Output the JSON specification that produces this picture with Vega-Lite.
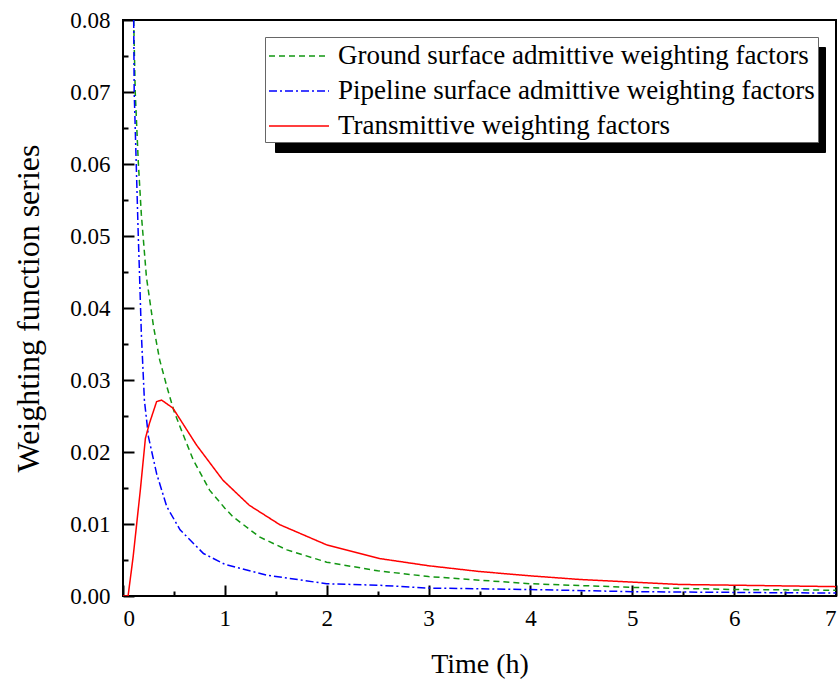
{
  "$schema": "https://vega.github.io/schema/vega-lite/v6.json",
  "width": 713,
  "height": 576,
  "autosize": {"type": "none"},
  "padding": {"left": 123, "top": 20, "right": 4, "bottom": 86},
  "background": "white",
  "config": {
    "view": {"stroke": "black", "strokeWidth": 2},
    "axis": {
      "domain": false,
      "ticks": true,
      "tickWidth": 2,
      "grid": false,
      "labelColor": "black",
      "titleFont": "Times New Roman",
      "titleFontWeight": "normal",
      "titleColor": "black",
      "zindex": 1
    }
  },
  "data": {
    "values": [
      {"t": 0.105, "v": 0.080, "series": "Ground surface admittive weighting factors"},
      {"t": 0.12, "v": 0.070, "series": "Ground surface admittive weighting factors"},
      {"t": 0.15, "v": 0.0603, "series": "Ground surface admittive weighting factors"},
      {"t": 0.18, "v": 0.053, "series": "Ground surface admittive weighting factors"},
      {"t": 0.23, "v": 0.0443, "series": "Ground surface admittive weighting factors"},
      {"t": 0.30, "v": 0.0374, "series": "Ground surface admittive weighting factors"},
      {"t": 0.36, "v": 0.0328, "series": "Ground surface admittive weighting factors"},
      {"t": 0.43, "v": 0.0291, "series": "Ground surface admittive weighting factors"},
      {"t": 0.5, "v": 0.0257, "series": "Ground surface admittive weighting factors"},
      {"t": 0.56, "v": 0.0235, "series": "Ground surface admittive weighting factors"},
      {"t": 0.69, "v": 0.0189, "series": "Ground surface admittive weighting factors"},
      {"t": 0.85, "v": 0.0147, "series": "Ground surface admittive weighting factors"},
      {"t": 1.0, "v": 0.0122, "series": "Ground surface admittive weighting factors"},
      {"t": 1.08, "v": 0.0110, "series": "Ground surface admittive weighting factors"},
      {"t": 1.34, "v": 0.0082, "series": "Ground surface admittive weighting factors"},
      {"t": 1.61, "v": 0.0064, "series": "Ground surface admittive weighting factors"},
      {"t": 2.0, "v": 0.0047, "series": "Ground surface admittive weighting factors"},
      {"t": 2.5, "v": 0.0035, "series": "Ground surface admittive weighting factors"},
      {"t": 3.0, "v": 0.0027, "series": "Ground surface admittive weighting factors"},
      {"t": 3.5, "v": 0.0022, "series": "Ground surface admittive weighting factors"},
      {"t": 4.0, "v": 0.0017, "series": "Ground surface admittive weighting factors"},
      {"t": 5.0, "v": 0.0012, "series": "Ground surface admittive weighting factors"},
      {"t": 6.0, "v": 0.0009, "series": "Ground surface admittive weighting factors"},
      {"t": 7.0, "v": 0.0008, "series": "Ground surface admittive weighting factors"},

      {"t": 0.105, "v": 0.080, "series": "Pipeline surface admittive weighting factors"},
      {"t": 0.11, "v": 0.070, "series": "Pipeline surface admittive weighting factors"},
      {"t": 0.13, "v": 0.060, "series": "Pipeline surface admittive weighting factors"},
      {"t": 0.15, "v": 0.050, "series": "Pipeline surface admittive weighting factors"},
      {"t": 0.16, "v": 0.0457, "series": "Pipeline surface admittive weighting factors"},
      {"t": 0.18, "v": 0.0365, "series": "Pipeline surface admittive weighting factors"},
      {"t": 0.21, "v": 0.0272, "series": "Pipeline surface admittive weighting factors"},
      {"t": 0.25, "v": 0.0221, "series": "Pipeline surface admittive weighting factors"},
      {"t": 0.33, "v": 0.017, "series": "Pipeline surface admittive weighting factors"},
      {"t": 0.43, "v": 0.0124, "series": "Pipeline surface admittive weighting factors"},
      {"t": 0.56, "v": 0.0092, "series": "Pipeline surface admittive weighting factors"},
      {"t": 0.79, "v": 0.0059, "series": "Pipeline surface admittive weighting factors"},
      {"t": 1.0, "v": 0.0044, "series": "Pipeline surface admittive weighting factors"},
      {"t": 1.41, "v": 0.0029, "series": "Pipeline surface admittive weighting factors"},
      {"t": 2.0, "v": 0.0017, "series": "Pipeline surface admittive weighting factors"},
      {"t": 2.5, "v": 0.0015, "series": "Pipeline surface admittive weighting factors"},
      {"t": 3.0, "v": 0.0011, "series": "Pipeline surface admittive weighting factors"},
      {"t": 4.0, "v": 0.0009, "series": "Pipeline surface admittive weighting factors"},
      {"t": 5.0, "v": 0.0006, "series": "Pipeline surface admittive weighting factors"},
      {"t": 6.0, "v": 0.0005, "series": "Pipeline surface admittive weighting factors"},
      {"t": 7.0, "v": 0.0004, "series": "Pipeline surface admittive weighting factors"},

      {"t": 0.0, "v": 0.0, "series": "Transmittive weighting factors"},
      {"t": 0.05, "v": 0.0, "series": "Transmittive weighting factors"},
      {"t": 0.1, "v": 0.0055, "series": "Transmittive weighting factors"},
      {"t": 0.17, "v": 0.0147, "series": "Transmittive weighting factors"},
      {"t": 0.22, "v": 0.0219, "series": "Transmittive weighting factors"},
      {"t": 0.26, "v": 0.024, "series": "Transmittive weighting factors"},
      {"t": 0.33, "v": 0.027, "series": "Transmittive weighting factors"},
      {"t": 0.38, "v": 0.0272, "series": "Transmittive weighting factors"},
      {"t": 0.49, "v": 0.0261, "series": "Transmittive weighting factors"},
      {"t": 0.72, "v": 0.021, "series": "Transmittive weighting factors"},
      {"t": 0.98, "v": 0.0161, "series": "Transmittive weighting factors"},
      {"t": 1.24, "v": 0.0126, "series": "Transmittive weighting factors"},
      {"t": 1.54, "v": 0.0099, "series": "Transmittive weighting factors"},
      {"t": 2.0, "v": 0.0071, "series": "Transmittive weighting factors"},
      {"t": 2.52, "v": 0.0052, "series": "Transmittive weighting factors"},
      {"t": 3.0, "v": 0.0042, "series": "Transmittive weighting factors"},
      {"t": 3.5, "v": 0.0034, "series": "Transmittive weighting factors"},
      {"t": 4.0, "v": 0.0028, "series": "Transmittive weighting factors"},
      {"t": 4.48, "v": 0.0023, "series": "Transmittive weighting factors"},
      {"t": 5.47, "v": 0.0016, "series": "Transmittive weighting factors"},
      {"t": 6.0, "v": 0.0015, "series": "Transmittive weighting factors"},
      {"t": 7.0, "v": 0.0013, "series": "Transmittive weighting factors"}
    ]
  },
  "transform": [{"calculate": "datum.series + ' '", "as": "series2"}],
  "resolve": {"axis": {"x": "independent", "y": "independent"}},
  "layer": [
    {
      "mark": {"type": "point", "opacity": 0},
      "encoding": {
        "x": {"field": "t", "type": "quantitative",
              "scale": {"domain": [0, 7], "nice": false},
              "axis": {"orient": "bottom", "offset": -5, "values": [0.5, 1.5, 2.5, 3.5, 4.5, 5.5, 6.5], "labels": false, "tickSize": 5, "tickWidth": 2, "tickColor": "black", "title": null}},
        "y": {"field": "v", "type": "quantitative",
              "scale": {"domain": [0, 0.08], "nice": false, "zero": true},
              "axis": {"orient": "left", "offset": -5, "values": [0.005, 0.015, 0.025, 0.035, 0.045, 0.055, 0.065, 0.075], "labels": false, "tickSize": 5, "tickWidth": 2, "tickColor": "black", "title": null}}
      }
    },
    {
      "mark": {"type": "line", "clip": true},
      "encoding": {
        "x": {"field": "t", "type": "quantitative",
              "scale": {"domain": [0, 7], "nice": false},
              "axis": {"orient": "bottom", "offset": -11, "values": [0, 1, 2, 3, 4, 5, 6, 7], "tickSize": 11, "tickWidth": 2, "tickColor": "black", "labelPadding": 11, "labelFont": "Times New Roman", "labelFontSize": 23, "title": "Time (h)", "titleFont": "Times New Roman", "titleFontSize": 28, "titlePadding": 20}},
        "y": {"field": "v", "type": "quantitative",
              "scale": {"domain": [0, 0.08], "nice": false, "zero": true},
              "axis": {"orient": "left", "offset": -11, "values": [0, 0.01, 0.02, 0.03, 0.04, 0.05, 0.06, 0.07, 0.08], "format": ".2f", "tickSize": 11, "tickWidth": 2, "tickColor": "black", "labelPadding": 13, "labelFont": "Times New Roman", "labelFontSize": 23, "title": "Weighting function series", "titleFont": "Times New Roman", "titleFontSize": 32, "titlePadding": 24}},
        "color": {"field": "series", "type": "nominal",
                  "scale": {"domain": ["Ground surface admittive weighting factors", "Pipeline surface admittive weighting factors", "Transmittive weighting factors"], "range": ["#129612", "#0000ff", "#ff0000"]},
                  "legend": {"title": null, "orient": "none", "legendX": 142, "legendY": 17, "zindex": 2, "fillColor": "white", "strokeColor": "#666666", "padding": 3, "rowPadding": 6, "symbolType": "M-1,0L3,0", "symbolSize": 900, "symbolStrokeWidth": 1.5, "labelOffset": 38, "labelFont": "Times New Roman", "labelFontSize": 27, "labelColor": "black", "labelLimit": 0}},
        "strokeDash": {"field": "series", "type": "nominal",
                  "scale": {"domain": ["Ground surface admittive weighting factors", "Pipeline surface admittive weighting factors", "Transmittive weighting factors"], "range": [[6, 4], [8, 3, 2, 3], [1, 0]]},
                  "legend": {"title": null, "orient": "none", "legendX": 142, "legendY": 17, "zindex": 2, "fillColor": "white", "strokeColor": "#666666", "padding": 3, "rowPadding": 6, "symbolType": "M-1,0L3,0", "symbolSize": 900, "symbolStrokeWidth": 1.5, "labelOffset": 38, "labelFont": "Times New Roman", "labelFontSize": 27, "labelColor": "black", "labelLimit": 0}},
        "strokeWidth": {"field": "series2", "type": "ordinal",
                  "scale": {"domain": ["Ground surface admittive weighting factors ", "Pipeline surface admittive weighting factors ", "Transmittive weighting factors "], "range": [1.5, 1.5, 1.5]},
                  "legend": {"title": null, "orient": "none", "legendX": 152, "legendY": 27, "zindex": 1, "fillColor": "black", "strokeColor": "black", "padding": 3, "rowPadding": 6, "symbolType": "M-1,0L3,0", "symbolSize": 900, "symbolStrokeWidth": 1.5, "symbolStrokeColor": "black", "labelColor": "black", "labelExpr": "''", "labelOffset": 512, "labelFontSize": 27, "labelLimit": 0}}
      }
    }
  ]
}
